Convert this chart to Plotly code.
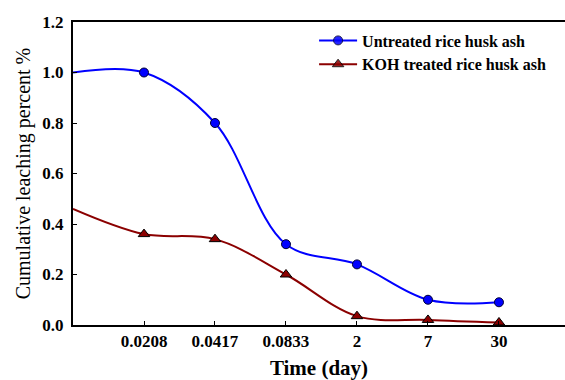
import plotly.graph_objects as go

tick_labels = ["0.0208", "0.0417", "0.0833", "2", "7", "30"]
positions = [0, 1, 2, 3, 4, 5, 6]
untreated = [1.0, 1.0, 0.80, 0.32, 0.24, 0.10, 0.09]
koh = [0.46, 0.36, 0.34, 0.20, 0.035, 0.02, 0.01]

BLUE = "#0000FF"
RED = "#8B0000"
FONT = "Liberation Serif"

fig = go.Figure()
fig.add_trace(go.Scatter(
    x=positions, y=untreated, mode="lines+markers", name="Untreated rice husk ash",
    line=dict(color=BLUE, width=2, shape="spline", smoothing=1.0),
    marker=dict(symbol="circle", size=9, color=BLUE,
                opacity=[0] + [1] * 6, line=dict(color="#000033", width=1)),
))
fig.add_trace(go.Scatter(
    x=positions, y=koh, mode="lines+markers", name="KOH treated rice husk ash",
    line=dict(color=RED, width=2, shape="spline", smoothing=1.0),
    marker=dict(symbol="triangle-up", size=10, color=RED,
                opacity=[0] + [1] * 6, line=dict(color="#000000", width=1)),
))

fig.update_layout(
    width=565, height=380,
    margin=dict(l=73, r=0, t=22, b=55),
    plot_bgcolor="white", paper_bgcolor="white",
    font=dict(family=FONT, color="black"),
    showlegend=True,
    legend=dict(x=0.49, y=0.995, xanchor="left", yanchor="top",
                bgcolor="rgba(0,0,0,0)", borderwidth=0,
                font=dict(family=FONT, size=16, color="black", weight="bold"),
                itemsizing="trace", tracegroupgap=0, itemwidth=38),
    xaxis=dict(
        range=[0, 6.93], tickmode="array", tickvals=positions[1:], ticktext=tick_labels,
        ticks="inside", ticklen=4, tickwidth=1, tickcolor="black",
        showline=True, linecolor="black", linewidth=2, mirror=True,
        showgrid=False, zeroline=False,
        tickfont=dict(family=FONT, size=17, weight="bold"),
        title=dict(text="Time (day)", font=dict(family=FONT, size=21, weight="bold"), standoff=12),
    ),
    yaxis=dict(
        range=[0, 1.2], tickmode="array", tickvals=[0, 0.2, 0.4, 0.6, 0.8, 1.0, 1.2],
        ticktext=["0.0", "0.2", "0.4", "0.6", "0.8", "1.0", "1.2"],
        ticks="inside", ticklen=4, tickwidth=1, tickcolor="black",
        showline=True, linecolor="black", linewidth=2, mirror=False,
        showgrid=False, zeroline=False, ticklabelstandoff=4,
        tickfont=dict(family=FONT, size=17, weight="bold"),
        title=dict(text="Cumulative leaching percent %", font=dict(family=FONT, size=20), standoff=6),
    ),
)

fig.write_html("out.html")
